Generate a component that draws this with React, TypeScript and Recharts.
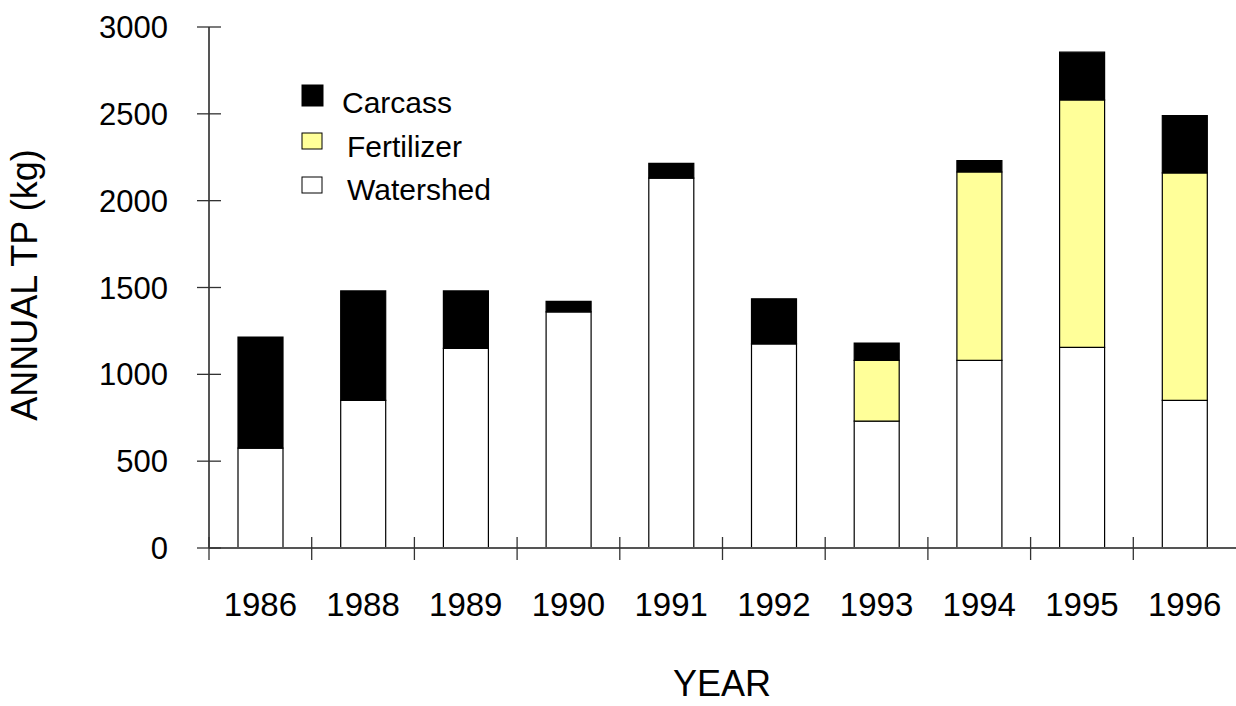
import { BarChart, Bar, XAxis, YAxis, Legend } from 'recharts';

const years = ['1986', '1988', '1989', '1990', '1991', '1992', '1993', '1994', '1995', '1996'];
const watershed = [575, 850, 1150, 1360, 2130, 1175, 730, 1080, 1155, 850];
const fertilizer = [0, 0, 0, 0, 0, 0, 350, 1085, 1425, 1310];
const carcass = [640, 630, 330, 60, 85, 260, 100, 65, 275, 330];
const yTicks = [0, 500, 1000, 1500, 2000, 2500, 3000];

const data = years.map((year, i) => ({
  year,
  watershed: watershed[i],
  fertilizer: fertilizer[i],
  carcass: carcass[i],
}));

const W = 1236;
const H = 706;
const LEFT = 209;
const BAND = (W - LEFT) / years.length;
const FONT = '"Liberation Sans", Arial, sans-serif';

const YTick = (props: any) => {
  const { x, y, payload } = props;
  return (
    <g>
      <line x1={x - 12} x2={x + 12} y1={y} y2={y} stroke="#333" strokeWidth={1.3} />
      <text x={x - 41} y={y + 11} textAnchor="end" fontSize={31} fontFamily={FONT} fill="#000">
        {payload.value}
      </text>
    </g>
  );
};

const XTick = (props: any) => {
  const { x, y, payload } = props;
  const bx = x - BAND / 2;
  return (
    <g>
      <line x1={bx} x2={bx} y1={y - 11} y2={y + 12} stroke="#333" strokeWidth={1.3} />
      <text x={x} y={y + 68} textAnchor="middle" fontSize={33} fontFamily={FONT} fill="#000">
        {payload.value}
      </text>
    </g>
  );
};

const legendItems = [
  { label: 'Carcass', fill: '#000000', sq: [302, 85, 21, 21], tx: 342, ty: 113 },
  { label: 'Fertilizer', fill: '#FFFF99', sq: [302, 133, 20, 16], tx: 347, ty: 157 },
  { label: 'Watershed', fill: '#FFFFFF', sq: [302, 177, 20, 16], tx: 347, ty: 200 },
];

const LegendBox = () => (
  <svg width={600} height={230} style={{ position: 'absolute', left: 0, top: 0, overflow: 'visible' }}>
    {legendItems.map((it) => (
      <g key={it.label}>
        <rect x={it.sq[0]} y={it.sq[1]} width={it.sq[2]} height={it.sq[3]} fill={it.fill} stroke="#000" strokeWidth={1} />
        <text x={it.tx} y={it.ty} fontSize={30} fontFamily={FONT} fill="#000">
          {it.label}
        </text>
      </g>
    ))}
  </svg>
);

export default function App() {
  return (
    <div style={{ position: 'absolute', left: 0, top: 0, background: '#fff' }}>
      <BarChart width={W} height={H} data={data} margin={{ top: 27, right: 0, left: 0, bottom: 0 }} barSize={45}>
        <XAxis
          dataKey="year"
          height={H - 548}
          tickSize={0}
          tickMargin={0}
          axisLine={{ stroke: '#555', strokeWidth: 2 }}
          tickLine={false}
          tick={<XTick />}
          interval={0}
          label={{
            content: () => (
              <text x={722} y={696} textAnchor="middle" fontSize={36} fontFamily={FONT} fill="#000">
                YEAR
              </text>
            ),
          }}
        />
        <YAxis
          width={LEFT}
          domain={[0, 3000]}
          ticks={yTicks}
          tickSize={0}
          tickMargin={0}
          axisLine={{ stroke: '#555', strokeWidth: 2 }}
          tickLine={false}
          tick={<YTick />}
          interval={0}
          label={{
            content: () => (
              <text
                x={37}
                y={285}
                textAnchor="middle"
                fontSize={36}
                fontFamily={FONT}
                fill="#000"
                transform="rotate(-90 37 285)"
              >
                ANNUAL TP (kg)
              </text>
            ),
          }}
        />
        <Legend content={<LegendBox />} wrapperStyle={{ position: 'absolute', left: 0, top: 0, width: 0, height: 0 }} />
        <Bar dataKey="watershed" name="Watershed" stackId="a" fill="#FFFFFF" stroke="#000" strokeWidth={1.2} isAnimationActive={false} />
        <Bar dataKey="fertilizer" name="Fertilizer" stackId="a" fill="#FFFF99" stroke="#000" strokeWidth={1.2} isAnimationActive={false} />
        <Bar dataKey="carcass" name="Carcass" stackId="a" fill="#000000" stroke="#000" strokeWidth={1.2} isAnimationActive={false} />
      </BarChart>
    </div>
  );
}
